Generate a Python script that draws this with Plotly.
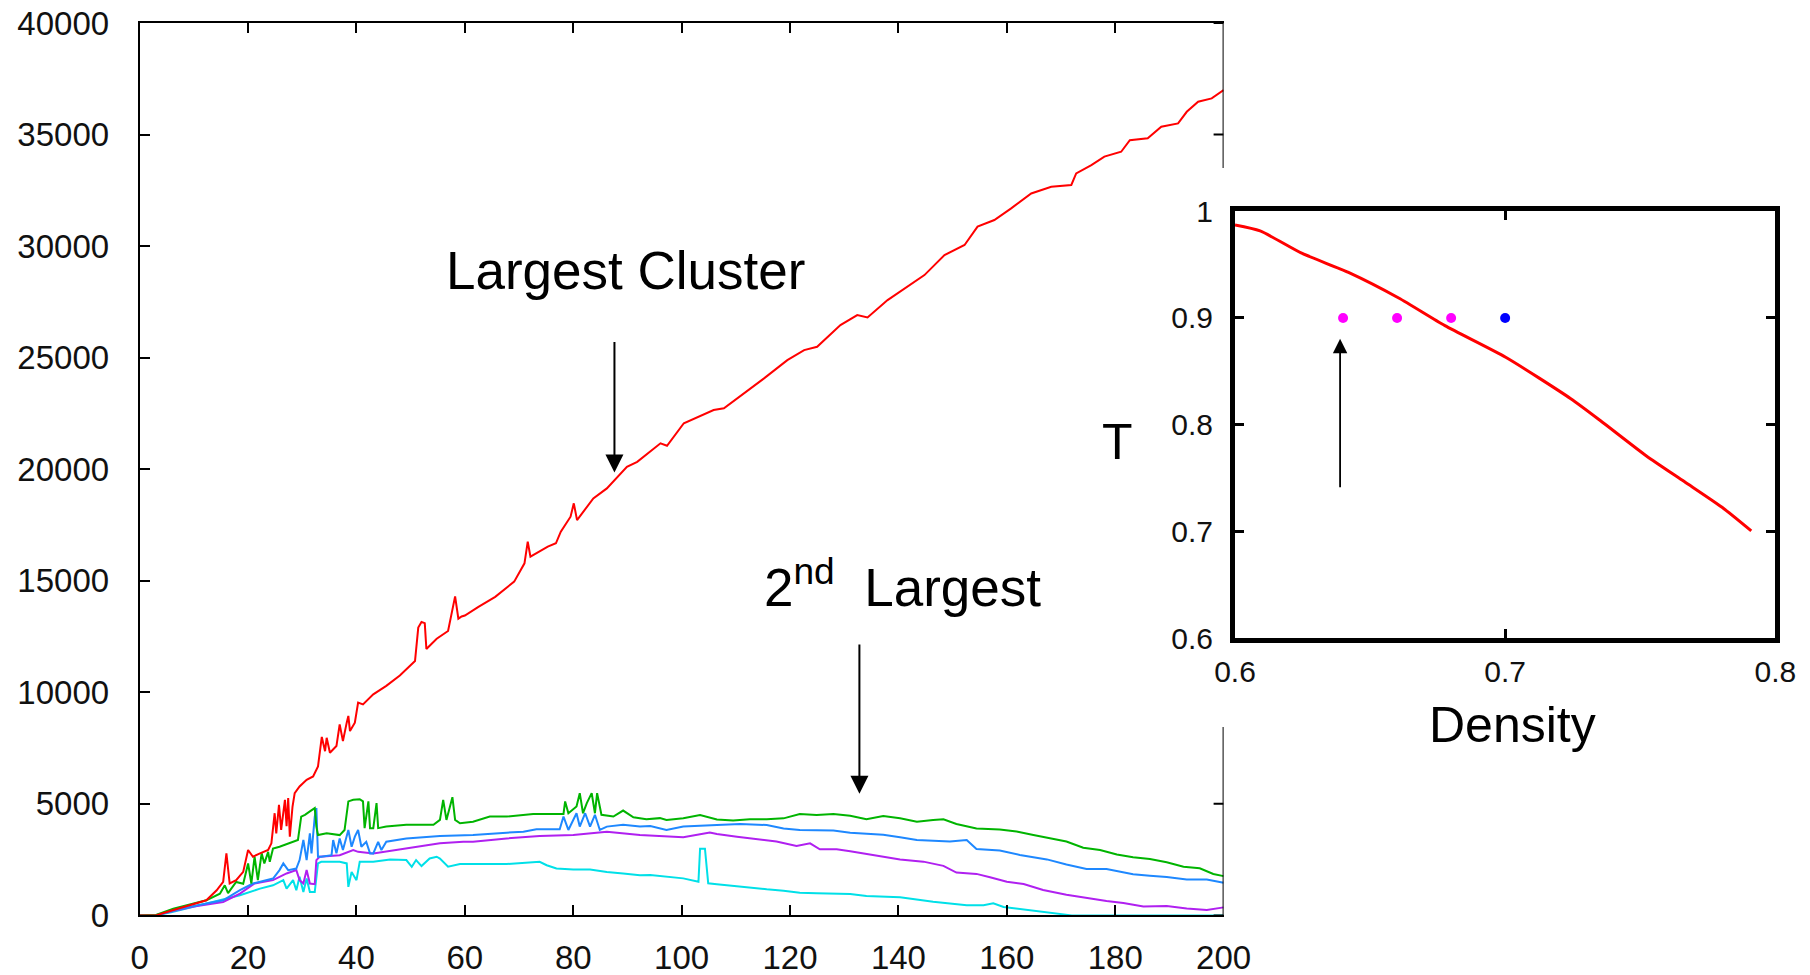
import plotly.graph_objects as go

# ---- cluster size vs time (main panel) ----
red_x = [0, 3, 5, 8, 10, 12.3, 14.2, 15.4, 16, 16.6, 17.8, 19.1, 20, 20.9, 22.2, 23.7, 24.3, 24.9,
         25.2, 25.7, 26.1, 26.8, 27.1, 27.4, 27.7, 28.2, 28.6, 29.5, 30.8, 32, 32.9, 33.6, 34.2, 34.5,
         35.1, 36.3, 36.9, 37.5, 38.2, 38.5, 38.8, 39.7, 40.3, 41.2, 43.1, 45.5, 48, 49.8, 50.8, 51.4,
         52, 52.6, 52.9, 54.8, 56.9, 58.2, 58.8, 59.4, 60, 62.5, 65.6, 69.1, 71, 71.6, 72.1, 75.3, 76.8,
         77.7, 79.5, 80.1, 80.7, 83.7, 86.2, 89.9, 91.8, 96.1, 97.3, 100.4, 105.9, 107.8, 111.5, 115.2,
         119.5, 122.6, 125, 129.3, 132.4, 134.3, 138, 141.7, 144.8, 148.5, 152.2, 154.6, 157.7, 160.8,
         164.5, 168.2, 171.9, 172.8, 175.6, 178, 181.1, 182.7, 186, 188.5, 191.6, 193.2, 195.3, 197.8, 200]
red_y = [0, 0, 150, 380, 520, 676, 1127, 1500, 2780, 1430, 1577, 1950, 2930, 2630, 2780, 2930, 3230, 4580,
         3680, 4960, 3830, 5180, 4000, 5260, 3530, 4880, 5480, 5780, 6080, 6230, 6680, 8000, 7360, 7960,
         7290, 7590, 8560, 7810, 8640, 8940, 8260, 8640, 9540, 9460, 9910, 10290, 10750, 11190, 11400, 12900,
         13150, 13100, 11940, 12400, 12750, 14300, 13300, 13400, 13440, 13830, 14280, 14960, 15780, 16750, 16080, 16530, 16680,
         17200, 17870, 18470, 17720, 18690, 19140, 20110, 20330, 21160, 21050, 22060, 22650, 22730, 23400, 24070,
         24890, 25340, 25490, 26460, 26910, 26800, 27580, 28180, 28700, 29600, 30050, 30870, 31170, 31690,
         32360, 32660, 32740, 33260, 33630, 34010, 34230, 34750, 34830, 35350, 35500, 36020, 36470, 36620, 36990]

green_x = [0, 3, 6.2, 9, 12.3, 14.8, 15.7, 16.3, 17.8, 19.1, 20, 20.6, 21.2, 21.8, 22.5, 23, 23.7, 24, 24.6,
           25.8, 27.7, 29.2, 29.8, 30.5, 31.4, 32.3, 32.6, 32.9, 34.5, 36.9, 37.8, 38.5, 39.4, 40.6, 41.2,
           41.5, 42.2, 42.5, 43.1, 43.7, 44, 45.5, 49.2, 54.2, 55.4, 56, 56.6, 57.2, 57.7, 58.2, 59.1, 61.5,
           64.6, 67.7, 72.6, 78.2, 78.5, 79.1, 80.6, 81.2, 81.8, 82.5, 83.4, 84, 84.4, 85.2, 87.4, 89.2, 91.1,
           93.5, 96, 97.2, 100.3, 103.4, 106.5, 109.5, 112.6, 115.7, 118.8, 121.8, 124.9, 128, 131.1, 134.1,
           137.2, 140.3, 143.4, 146.4, 148.3, 150.7, 154.4, 158.7, 161.8, 164.9, 168, 171, 174.1, 177.2,
           180.3, 183.3, 186.4, 189.5, 192.6, 195.6, 198.1, 200]
green_y = [0, 20, 300, 480, 676, 976, 1350, 1000, 1500, 1420, 2330, 1430, 2630, 1580, 2780, 2330, 2850, 2400, 3000,
           3080, 3230, 3380, 4430, 4510, 4660, 4810, 3980, 3600, 3680, 3600, 3830, 5110, 5180, 5210, 5110,
           3910, 5110, 3910, 3910, 5030, 3910, 3980, 4060, 4060, 4280, 5180, 4280, 4880, 5300, 4280, 4130, 4200,
           4430, 4430, 4550, 4550, 5110, 4580, 4880, 5480, 4580, 5030, 5480, 4580, 5480, 4510, 4430, 4700, 4400,
           4310, 4360, 4280, 4350, 4500, 4300, 4250, 4306, 4306, 4350, 4540, 4500, 4540, 4470, 4306,
           4460, 4350, 4200, 4280, 4306, 4100, 3900, 3850, 3760, 3600, 3450, 3310, 3030, 2930,
           2730, 2610, 2530, 2380, 2180, 2110, 1855, 1760]

blue_x = [0, 3, 6, 10, 15.4, 18.5, 20.9, 24.6, 25.8, 26.5, 27.4, 28.9, 29.5, 30.2, 30.8, 31.4, 31.7, 32.3,
          32.6, 32.9, 33.5, 35.4, 35.7, 36.3, 36.9, 37.5, 38.5, 39.1, 39.7, 40.3, 40.9, 41.8, 42.5, 43.1, 44,
          44.6, 45.5, 49.2, 55.4, 61.5, 67.7, 70.8, 73.2, 77.5, 78.2, 79.1, 80.6, 81.2, 82.2, 83.1, 84, 84.9,
          86.2, 89.2, 92.3, 94.2, 97.2, 100.3, 106.5, 110.8, 115.7, 118.8, 121.8, 128, 131.1, 137.2, 140.3,
          143.4, 149.5, 152.6, 154.4, 158.7, 162.4, 167.4, 171, 174.7, 178.4, 183.3, 186.4, 189.5, 193.2,
          196.9, 200]
blue_y = [0, 10, 200, 420, 676, 1130, 1430, 1650, 2030, 2330, 2030, 2100, 2480, 3380, 2480, 3680, 2780, 4430,
          4810, 2630, 2630, 2700, 3380, 2780, 3450, 2930, 3830, 3080, 3530, 3830, 3080, 3300, 2780, 2780, 3300,
          2930, 3300, 3450, 3560, 3600, 3710, 3750, 3860, 3860, 4430, 3830, 4580, 3980, 4580, 3980, 4510, 3830,
          3980, 4060, 3980, 4010, 3830, 3980, 4050, 4100, 4050, 3900, 3830, 3800, 3710, 3610, 3500,
          3380, 3310, 3380, 2980, 2910, 2710, 2510, 2280, 2080, 2080, 1840, 1780, 1720, 1610,
          1610, 1460]

purple_x = [0, 3, 6, 10, 15.4, 18.5, 21.2, 24.6, 27.1, 28.9, 29.5, 30.2, 30.8, 31.4, 32.3, 32.6, 33.2, 36.9,
            39.4, 40.3, 43.1, 49.2, 55.4, 59.7, 61.5, 67.7, 73.8, 80, 86.2, 92.3, 96, 100.3, 105.2, 106.5,
            110.2, 117.5, 121.2, 123.7, 125.5, 128.6, 131.1, 134.1, 137.2, 140.3, 144.6, 148.3, 150.7, 154.4,
            156.9, 160, 163.1, 166.7, 171, 174.1, 176, 178.4, 181.5, 185.2, 189.5, 193.2, 196.9, 200]
purple_y = [0, 10, 180, 400, 600, 976, 1430, 1580, 1880, 2030, 1580, 1430, 2030, 1430, 1400, 2480, 2630, 2700,
            2930, 2850, 2780, 3000, 3230, 3300, 3300, 3450, 3560, 3600, 3750, 3600, 3560, 3500, 3710, 3650,
            3530, 3310, 3110, 3230, 2960, 2960, 2880, 2770, 2630, 2510, 2410, 2220, 1920, 1860,
            1710, 1510, 1410, 1140, 930, 810, 720, 650, 560, 400, 420, 310, 240, 360]

cyan_x = [0, 3, 6, 12.3, 18.5, 22.2, 24.6, 26.5, 27.1, 28.3, 28.9, 29.5, 30.2, 30.8, 31.4, 32.3, 32.9, 33.5,
          36.9, 38.2, 38.5, 39.1, 40, 40.6, 43.1, 46.2, 49.2, 50.2, 51, 52, 53.5, 54.8, 55.4, 56.9, 59.1, 61.5,
          67.7, 73.8, 75.1, 76.9, 80, 83.1, 86.2, 89.2, 92.3, 94.2, 97.2, 100.3, 103.1, 103.4, 104.3, 104.9,
          106.5, 109.5, 115.7, 118.8, 121.8, 124.9, 131.1, 134.1, 137.2, 140.3, 146.4, 149.5, 152.6, 155.7,
          157.5, 159.4, 161.8, 164.9, 168, 171, 172, 200]
cyan_y = [0, 0, 150, 525, 900, 1200, 1350, 1580, 1200, 1580, 1130, 1730, 1050, 1650, 1050, 1050, 2330, 2400,
          2400, 2330, 1280, 1950, 1580, 2400, 2400, 2510, 2480, 2180, 2480, 2210, 2550, 2630, 2550, 2180, 2300, 2300,
          2300, 2400, 2250, 2100, 2060, 2060, 1950, 1880, 1800, 1810, 1730, 1660, 1510, 2990, 2990, 1440,
          1400, 1320, 1170, 1110, 1020, 990, 960, 870, 840, 810, 610, 540, 460, 460,
          540, 380, 310, 240, 140, 30, 0, 0]

# ---- inset: T vs density ----
coex_density = [0.6, 0.6093, 0.6249, 0.642, 0.6606, 0.6777, 0.7002, 0.7243, 0.7352, 0.7523, 0.7663, 0.7803, 0.7911]
coex_T = [0.987, 0.9815, 0.9604, 0.9427, 0.9187, 0.8928, 0.8632, 0.8244, 0.804, 0.7708, 0.7468, 0.7227, 0.7006]
state_density_m = [0.64, 0.66, 0.68]
state_T_m = [0.9, 0.9, 0.9]
state_density_b = [0.70]
state_T_b = [0.9]

W, H = 1810, 975
FONT = "Liberation Sans, Arial, Helvetica, sans-serif"

# plot-area boxes in pixels: (left, top, right, bottom)
MAIN_BOX = (139.7, 23.0, 1223.6, 915.4)
INSET_BOX = (1235.0, 211.2, 1775.3, 638.3)


def xdom(box):
    return [box[0] / W, box[2] / W]


def ydom(box):
    return [1 - box[3] / H, 1 - box[1] / H]


fig = go.Figure()

series = [
    (cyan_x, cyan_y, "#00e0e8"),
    (purple_x, purple_y, "#b020f0"),
    (blue_x, blue_y, "#1e88ff"),
    (green_x, green_y, "#00b400"),
    (red_x, red_y, "#ff0000"),
]
for xs, ys, col in series:
    fig.add_trace(go.Scatter(x=xs, y=ys, mode="lines", line=dict(color=col, width=2),
                             xaxis="x", yaxis="y", showlegend=False, hoverinfo="skip"))

fig.add_trace(go.Scatter(x=coex_density, y=coex_T, mode="lines",
                         line=dict(color="#ff0000", width=3, shape="spline", smoothing=0.6),
                         xaxis="x2", yaxis="y2", showlegend=False, hoverinfo="skip"))
fig.add_trace(go.Scatter(x=state_density_m, y=state_T_m, mode="markers",
                         marker=dict(color="#ff00ff", size=10),
                         xaxis="x2", yaxis="y2", showlegend=False, hoverinfo="skip"))
fig.add_trace(go.Scatter(x=state_density_b, y=state_T_b, mode="markers",
                         marker=dict(color="#0000ff", size=10),
                         xaxis="x2", yaxis="y2", showlegend=False, hoverinfo="skip"))

tick_font = dict(family=FONT, size=33, color="#111111")
inset_tick_font = dict(family=FONT, size=30, color="#111111")

fig.update_layout(
    width=W, height=H, autosize=False,
    margin=dict(l=0, r=0, t=0, b=0, pad=0),
    paper_bgcolor="white", plot_bgcolor="white",
    xaxis=dict(domain=xdom(MAIN_BOX), range=[0, 200], dtick=20, tick0=0, automargin=False,
               showline=True, linecolor="black", linewidth=2, mirror="ticks",
               ticks="inside", ticklen=10, tickwidth=2, tickcolor="black",
               showgrid=False, zeroline=False, tickfont=tick_font,
               ticklabelstandoff=12, anchor="y", fixedrange=True),
    yaxis=dict(domain=ydom(MAIN_BOX), range=[0, 40000], dtick=5000, tick0=0, tickformat="d",
               automargin=False,
               showline=True, linecolor="black", linewidth=2, mirror=False,
               ticks="inside", ticklen=10, tickwidth=2, tickcolor="black",
               showgrid=False, zeroline=False, tickfont=tick_font,
               ticklabelstandoff=22, anchor="x", fixedrange=True),
    xaxis2=dict(domain=xdom(INSET_BOX), range=[0.6, 0.8], dtick=0.1, tick0=0.6, automargin=False,
                showline=True, linecolor="black", linewidth=5, mirror="ticks",
                ticks="inside", ticklen=9, tickwidth=3, tickcolor="black",
                showgrid=False, zeroline=False, tickfont=inset_tick_font,
                ticklabelstandoff=3, anchor="y2", fixedrange=True),
    yaxis2=dict(domain=ydom(INSET_BOX), range=[0.6, 1.0], dtick=0.1, tick0=0.6, automargin=False,
                showline=True, linecolor="black", linewidth=5, mirror="ticks",
                ticks="inside", ticklen=9, tickwidth=3, tickcolor="black",
                showgrid=False, zeroline=False, tickfont=inset_tick_font,
                ticklabelstandoff=11, anchor="x2", fixedrange=True),
)

# right-hand frame of the main panel, interrupted where the inset sits
right_gap = (8450, 33500)
shapes = [
    dict(type="line", xref="x", yref="y", x0=200, x1=200, y0=0, y1=right_gap[0],
         line=dict(color="black", width=2)),
    dict(type="line", xref="x", yref="y", x0=200, x1=200, y0=right_gap[1], y1=40000,
         line=dict(color="black", width=2)),
]
for yv in range(0, 40001, 5000):
    if right_gap[0] < yv < right_gap[1]:
        continue
    shapes.append(dict(type="line", xref="x", yref="y", xsizemode="pixel", xanchor=200,
                       x0=-10, x1=0, y0=yv, y1=yv, line=dict(color="black", width=2)))
fig.update_layout(shapes=shapes)

label_font = dict(family=FONT, size=53, color="black")
annotations = [
    dict(text="Largest Cluster", xref="paper", yref="paper", x=625 / W, y=1 - 271 / H,
         xanchor="center", yanchor="middle", showarrow=False, font=label_font),
    dict(text="2<sup>nd</sup>&nbsp; Largest", xref="paper", yref="paper", x=902 / W, y=1 - 583 / H,
         xanchor="center", yanchor="middle", showarrow=False, font=label_font),
    dict(text="T", xref="paper", yref="paper", x=1117 / W, y=1 - 442 / H,
         xanchor="center", yanchor="middle", showarrow=False,
         font=dict(family=FONT, size=50, color="black")),
    dict(text="Density", xref="paper", yref="paper", x=1512 / W, y=1 - 725 / H,
         xanchor="center", yanchor="middle", showarrow=False,
         font=dict(family=FONT, size=50, color="black")),
    # arrows
    dict(text="", xref="x", yref="y", axref="x", ayref="y",
         x=87.6, y=19850, ax=87.6, ay=25770,
         showarrow=True, arrowhead=2, arrowsize=1.8, arrowwidth=2, arrowcolor="black"),
    dict(text="", xref="x", yref="y", axref="x", ayref="y",
         x=132.8, y=5450, ax=132.8, ay=12210,
         showarrow=True, arrowhead=2, arrowsize=1.8, arrowwidth=2, arrowcolor="black"),
    dict(text="", xref="x2", yref="y2", axref="x2", ayref="y2",
         x=0.6389, y=0.8805, ax=0.6389, ay=0.74,
         showarrow=True, arrowhead=2, arrowsize=1.6, arrowwidth=1.8, arrowcolor="black"),
]
fig.update_layout(annotations=annotations)

fig.write_html("out.html")
